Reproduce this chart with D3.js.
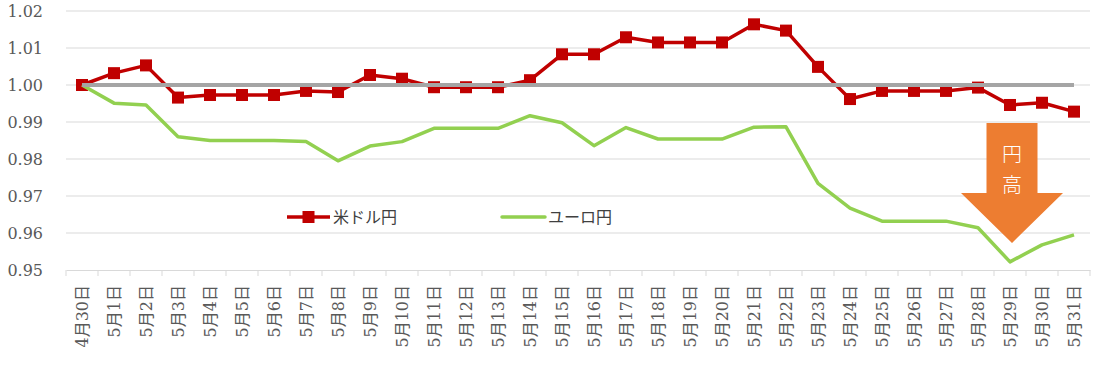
<!DOCTYPE html>
<html><head><meta charset="utf-8">
<script src="https://cdn.jsdelivr.net/npm/d3@7"></script>
<style>body{margin:0;background:#fff}svg{display:block}</style>
</head><body><svg id="c" width="1094" height="369"></svg>
<script>
const dates = ["4月30日","5月1日","5月2日","5月3日","5月4日","5月5日","5月6日","5月7日","5月8日","5月9日","5月10日","5月11日","5月12日","5月13日","5月14日","5月15日","5月16日","5月17日","5月18日","5月19日","5月20日","5月21日","5月22日","5月23日","5月24日","5月25日","5月26日","5月27日","5月28日","5月29日","5月30日","5月31日"];
const usdJpy = [1.0000,1.0032,1.0053,0.9966,0.9973,0.9973,0.9973,0.9984,0.9981,1.0027,1.0017,0.9994,0.9994,0.9994,1.0013,1.0083,1.0083,1.0129,1.0115,1.0115,1.0115,1.0164,1.0147,1.0049,0.9962,0.9984,0.9984,0.9984,0.9993,0.9946,0.9952,0.9928];
const eurJpy = [1.0000,0.9951,0.9946,0.9860,0.9850,0.9850,0.9850,0.9847,0.9795,0.9835,0.9847,0.9883,0.9883,0.9883,0.9917,0.9898,0.9836,0.9885,0.9854,0.9854,0.9854,0.9886,0.9887,0.9734,0.9667,0.9632,0.9632,0.9632,0.9614,0.9522,0.9568,0.9595];
const baseline = dates.map(() => 1.00);
const yTicks = [0.95,0.96,0.97,0.98,0.99,1.00,1.01,1.02];
const seriesNames = ["米ドル円","ユーロ円"];
const arrowText = ["円","高"];

const svg = d3.select("#c");
const L = 66, R = 1090, T = 11, B = 270;
const x = d3.scaleBand().domain(dates).range([L, R]);
const y = d3.scaleLinear().domain([0.95, 1.02]).range([B, T]);
const cx = d => x(d) + x.bandwidth()/2;
const serif = '"DejaVu Serif", "Noto Sans CJK JP", serif';

// gridlines
svg.append("g").selectAll("line").data(yTicks.filter(v => v > 0.95)).join("line")
  .attr("x1", L).attr("x2", R).attr("y1", d => y(d)).attr("y2", d => y(d))
  .attr("stroke", "#d9d9d9").attr("stroke-width", 1);

// y labels
svg.append("g").selectAll("text").data(yTicks).join("text")
  .attr("x", 43).attr("y", d => y(d) + 6).attr("text-anchor", "end")
  .style("font-family", serif).style("font-size", "16px").attr("fill", "#595959")
  .text(d => d.toFixed(2));

// x axis
const xa = svg.append("g").attr("transform", `translate(0,${B})`)
  .call(d3.axisBottom(x).tickSize(0).tickFormat(""));
xa.select(".domain").attr("stroke", "#d9d9d9");
svg.append("g").selectAll("line").data(d3.range(dates.length + 1)).join("line")
  .attr("x1", i => L + i * x.bandwidth()).attr("x2", i => L + i * x.bandwidth())
  .attr("y1", B).attr("y2", B + 6).attr("stroke", "#d9d9d9");
svg.append("g").selectAll("text").data(dates).join("text")
  .attr("transform", d => `translate(${cx(d) + 6},${285}) rotate(-90)`)
  .attr("text-anchor", "end")
  .style("font-family", serif).style("font-size", "16px").attr("fill", "#595959")
  .text(d => d);

const line = d3.line().x((d, i) => cx(dates[i])).y(d => y(d));

// red series
svg.append("path").datum(usdJpy).attr("d", line).attr("fill", "none")
  .attr("stroke", "#c00000").attr("stroke-width", 3.5).attr("stroke-linejoin", "round");
svg.append("g").selectAll("rect").data(usdJpy).join("rect")
  .attr("x", (d, i) => cx(dates[i]) - 6).attr("y", d => y(d) - 6)
  .attr("width", 12).attr("height", 12).attr("fill", "#c00000");

// green series
svg.append("path").datum(eurJpy).attr("d", line).attr("fill", "none")
  .attr("stroke", "#92d050").attr("stroke-width", 3.5).attr("stroke-linejoin", "round");

// baseline
svg.append("path").datum(baseline).attr("d", line).attr("fill", "none")
  .attr("stroke", "#a5a5a5").attr("stroke-width", 4);

// legend
const lg = svg.append("g");
lg.append("line").attr("x1", 287).attr("x2", 330).attr("y1", 217).attr("y2", 217)
  .attr("stroke", "#c00000").attr("stroke-width", 3.5);
lg.append("rect").attr("x", 302.5).attr("y", 211).attr("width", 12).attr("height", 12).attr("fill", "#c00000");
lg.append("text").attr("x", 333).attr("y", 223).style("font-family", "'Noto Sans CJK JP'")
  .style("font-size", "16px").attr("fill", "#404040").text(seriesNames[0]);
lg.append("line").attr("x1", 502).attr("x2", 545).attr("y1", 217).attr("y2", 217)
  .attr("stroke", "#92d050").attr("stroke-width", 3.5).attr("stroke-linecap", "round");
lg.append("text").attr("x", 548).attr("y", 223).style("font-family", "'Noto Sans CJK JP'")
  .style("font-size", "16px").attr("fill", "#404040").text(seriesNames[1]);

// arrow
const ax = 1012;
svg.append("path")
  .attr("d", `M${ax-25.5},123 L${ax+25.5},123 L${ax+25.5},193 L${ax+51},193 L${ax},243 L${ax-51},193 L${ax-25.5},193 Z`)
  .attr("fill", "#ed7d31");
svg.append("g").selectAll("text").data(arrowText).join("text")
  .attr("x", ax).attr("y", (d, i) => 162 + i * 30).attr("text-anchor", "middle")
  .style("font-family", "'Noto Sans CJK JP'").style("font-size", "20px").style("font-weight", 300)
  .attr("fill", "#fff").text(d => d);
</script></body></html>
